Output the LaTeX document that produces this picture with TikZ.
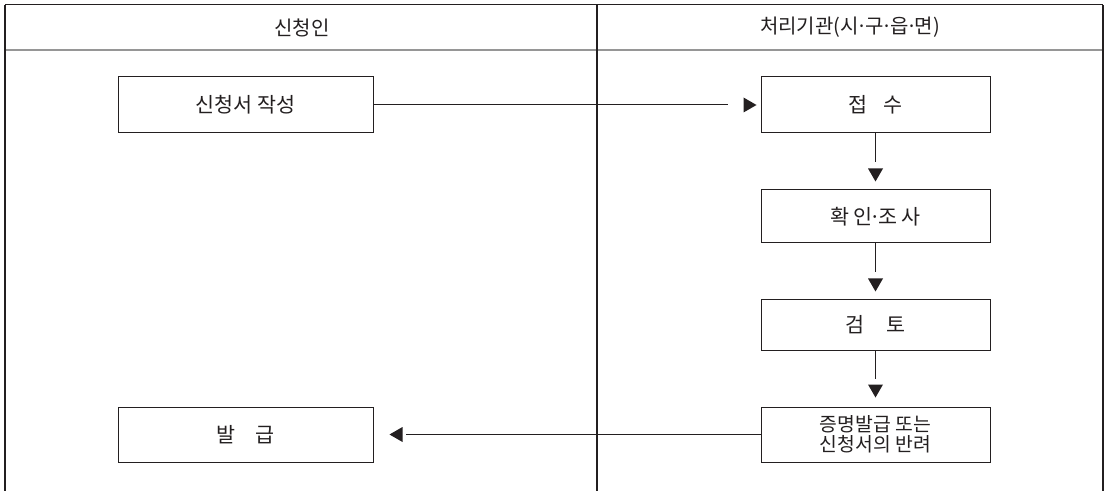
\documentclass[tikz,border=0pt]{standalone}
\usepackage{fontspec}
\setmainfont{Noto Sans CJK KR}
\usepackage{tikz}
\usetikzlibrary{decorations.markings}

\definecolor{ink}{RGB}{35,31,32}
\definecolor{rule}{RGB}{150,150,150}

\newcommand{\mdot}{\kern-0.12em·\kern-0.12em}

\tikzset{
  stepbox/.style={draw=ink, line width=0.75pt, inner sep=0pt, text=ink, align=center,
    font=\fontsize{15.5}{15}\selectfont},
  leftbox/.style={stepbox, minimum width=191.25pt},
  rightbox/.style={stepbox, minimum width=171.75pt},
  headtext/.style={text=ink, font=\fontsize{15}{15}\selectfont},
  % #1 = gap from tip to box, #2 = gap from line end to box
  flow/.style 2 args={draw=ink, line width=0.75pt, shorten >=#2,
    postaction={decorate, decoration={markings,
      mark=at position -#1 with {\fill[ink] (0,0) -- (-13,7.5) -- (-13,-7.5) -- cycle;}}}}
}

\begin{document}
\begin{tikzpicture}[x=0.75pt,y=0.75pt,yscale=-1,xscale=1]
        \useasboundingbox (0,0) rectangle (1105,491);

        %Table frame
        \draw [color=ink, line width=0.75pt] (5,5) -- (1103,5) ;
        \draw [color=rule, line width=1.5pt] (5,50) -- (1103,50) ;
        \draw [color=ink, line width=1.1pt] (5,5) -- (5,491) ;
        \draw [color=ink, line width=0.9pt] (1103,5) -- (1103,491) ;
        \draw [color=ink, line width=0.9pt] (597,5) -- (597,491) ;

        % Header
        \node (hleft) [headtext] at (302,27.5) {신청인};
        \node (hright) [headtext] at (850,27.5) {처리기관(시\mdot 구\mdot 읍\mdot 면)};

        % Boxes
        \node (apply) [leftbox, minimum height=42pt] at (245.5,105) {신청서 작성};
        \node (receive) [rightbox, minimum height=42pt] at (875.5,105) {접\hspace{0.75em}수};
        \node (inspect) [rightbox, minimum height=39.75pt] at (875.5,216.5) {확\hspace{0.2em}인\mdot 조\hspace{0.2em}사};
        \node (review) [rightbox, minimum height=37.5pt] at (875.5,325) {검\hspace{1.1em}토};
        \node (result) [rightbox, minimum height=41.25pt, font=\fontsize{14.5}{15}\selectfont] at (875.5,434.5) {증명발급 또는\\신청서의 반려};
        \node (issue) [leftbox, minimum height=41.25pt] at (245.5,434.5) {발\hspace{1em}급};

        % Connectors
        \draw [flow={3pt}{24.75pt}] (apply) -- (receive) ;
        \draw [flow={6pt}{20.25pt}] (receive) -- (inspect) ;
        \draw [flow={6pt}{20.25pt}] (inspect) -- (review) ;
        \draw [flow={6.75pt}{21pt}] (review) -- (result) ;
        \draw [flow={12pt}{24pt}] (result) -- (issue) ;

\end{tikzpicture}
\end{document}
